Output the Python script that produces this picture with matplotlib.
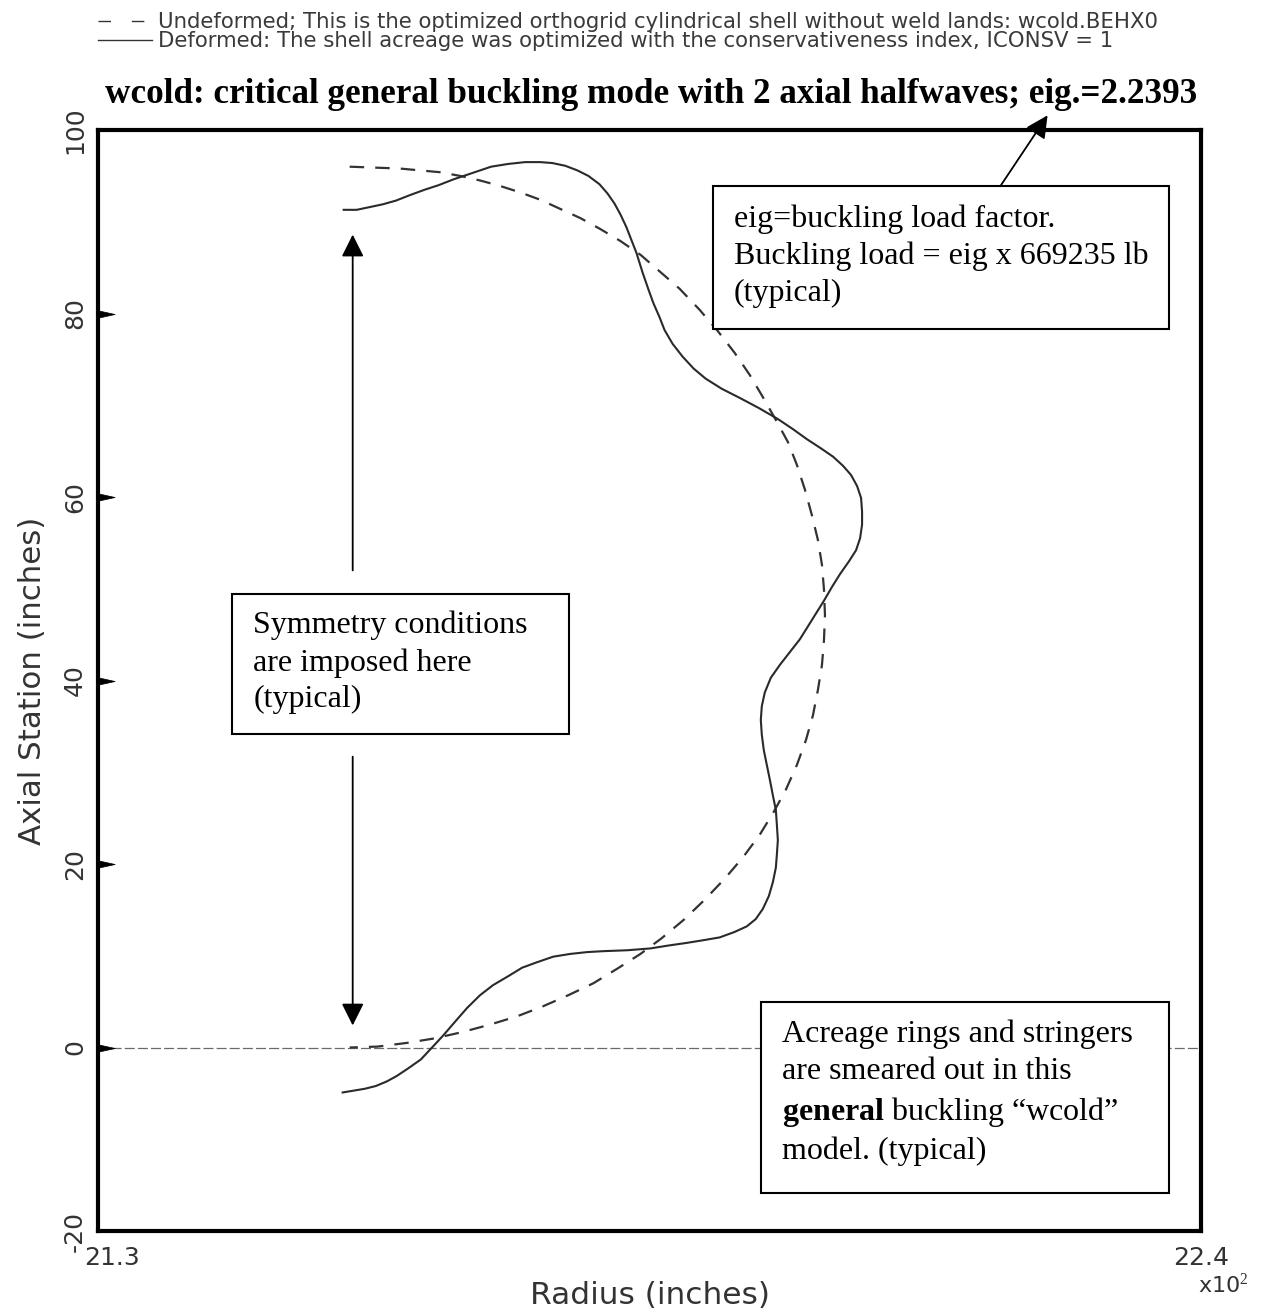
import matplotlib
matplotlib.use('Agg')
import matplotlib.pyplot as plt
import matplotlib.transforms as mtransforms
from matplotlib.lines import Line2D
from matplotlib.patches import Rectangle
from matplotlib.path import Path

plt.rcParams['font.family'] = ['DejaVu Sans']
plt.rcParams['mathtext.fontset'] = 'custom'
plt.rcParams['mathtext.rm'] = 'Liberation Serif'
plt.rcParams['mathtext.bf'] = 'Liberation Serif:bold'

# undeformed shell meridian: radius (in) vs axial station (in)
undeformed_r = [2155.1, 2157.6, 2160.1, 2162.1, 2164.1, 2166.1, 2168.1, 2170.1, 2172.1, 2174.1,
                2176.1, 2178.1, 2180.1, 2182.1, 2184.1, 2186.0, 2188.0, 2190.0, 2191.8, 2193.5,
                2195.0, 2196.3, 2197.6, 2198.8, 2199.7, 2200.5, 2201.2, 2201.8, 2202.2, 2202.4,
                2202.5, 2202.4, 2202.2, 2201.8, 2201.3, 2200.6, 2199.7, 2198.6, 2197.4, 2196.0,
                2194.3, 2192.5, 2190.5, 2188.4, 2186.2, 2184.1, 2181.8, 2179.4, 2176.9, 2174.4,
                2171.8, 2169.1, 2166.4, 2163.6, 2160.8, 2157.9, 2155.1]
undeformed_z = [96.0, 95.9, 95.8, 95.6, 95.4, 95.0, 94.5, 93.9, 93.2, 92.4,
                91.4, 90.4, 89.2, 87.9, 86.4, 84.6, 82.7, 80.4, 78.1, 75.7,
                73.3, 70.9, 68.4, 66.0, 63.5, 60.8, 58.0, 55.3, 52.6, 49.9,
                47.1, 44.4, 41.7, 39.0, 36.2, 33.5, 30.8, 28.1, 25.7, 23.2,
                20.7, 18.4, 16.1, 13.9, 11.9, 10.2, 8.6, 7.0, 5.7, 4.5,
                3.4, 2.5, 1.7, 1.0, 0.5, 0.1, 0.0]

# buckling mode shape, eig = 2.2393
deformed_r = [2154.5, 2155.8, 2157.1, 2158.4, 2159.7, 2161.1, 2162.6, 2164.0, 2165.4, 2167.3,
              2169.2, 2170.9, 2172.6, 2174.1, 2175.3, 2176.6, 2177.8, 2178.9, 2180.0, 2180.8,
              2181.5, 2182.1, 2182.7, 2183.2, 2183.7, 2184.3, 2184.9, 2185.4, 2186.0, 2186.5,
              2187.3, 2188.3, 2189.4, 2190.6, 2192.2, 2194.0, 2195.9, 2197.8, 2199.3, 2200.7,
              2202.1, 2203.3, 2204.3, 2205.1, 2205.7, 2206.1, 2206.2, 2206.2, 2206.0, 2205.6,
              2204.9, 2204.0, 2203.2, 2202.4, 2201.2, 2200.0, 2199.0, 2198.0, 2197.1, 2196.5,
              2196.2, 2196.1, 2196.2, 2196.4, 2196.7, 2197.0, 2197.3, 2197.6, 2197.7, 2197.8,
              2197.7, 2197.6, 2197.3, 2196.9, 2196.3, 2195.6, 2194.7, 2193.5, 2192.0, 2190.4,
              2188.7, 2186.8, 2185.1, 2182.8, 2180.4, 2178.8, 2177.1, 2175.4, 2173.8, 2172.3,
              2170.8, 2169.4, 2168.1, 2166.8, 2165.6, 2164.5, 2163.4, 2162.2, 2160.9, 2159.8,
              2158.8, 2157.7, 2156.6, 2155.5, 2154.4]
deformed_z = [91.3, 91.3, 91.6, 91.9, 92.3, 92.9, 93.5, 94.0, 94.6, 95.3,
              96.0, 96.3, 96.5, 96.5, 96.4, 96.1, 95.6, 95.0, 94.1, 93.1,
              92.0, 90.8, 89.4, 88.0, 86.6, 84.5, 82.6, 81.1, 79.6, 78.2,
              76.7, 75.3, 74.0, 72.9, 71.8, 70.8, 69.7, 68.5, 67.4, 66.3,
              65.3, 64.4, 63.4, 62.4, 61.2, 59.9, 58.4, 57.0, 55.5, 54.2,
              53.0, 51.6, 50.2, 48.7, 46.6, 44.5, 43.1, 41.7, 40.3, 38.7,
              37.2, 35.7, 34.1, 32.4, 30.8, 29.2, 27.5, 25.9, 24.3, 22.6,
              21.0, 19.6, 18.0, 16.5, 15.1, 14.0, 13.2, 12.6, 12.0, 11.7,
              11.4, 11.1, 10.8, 10.6, 10.5, 10.4, 10.2, 9.9, 9.3, 8.7,
              7.7, 6.8, 5.7, 4.3, 2.8, 1.4, 0.1, -1.3, -2.3, -3.1,
              -3.7, -4.2, -4.5, -4.7, -4.9]

x_ticks = [2130, 2240]
x_tick_labels = ['21.3', '22.4']
y_ticks = [-20, 0, 20, 40, 60, 80, 100]
y_tick_labels = ['-20', '0', '20', '40', '60', '80', '100']

W, H = 1268, 1314
fig = plt.figure(figsize=(W / 100, H / 100), dpi=100)
ax = fig.add_axes([98 / W, 1 - 1231 / H, 1103 / W, 1101 / H])


def fx(px):
    return px / W


def fy(py):
    return 1 - py / H


# legend block above the title
fig.add_artist(Line2D([fx(98), fx(147)], [fy(21), fy(21)], color='#333333', lw=1.0, dashes=(9, 15)))
fig.add_artist(Line2D([fx(98), fx(152)], [fy(40), fy(40)], color='#333333', lw=1.0))
fig.text(fx(158), fy(28),
         'Undeformed; This is the optimized orthogrid cylindrical shell without weld lands: wcold.BEHX0',
         fontsize=15.3, color='#3a3a3a', va='baseline')
fig.text(fx(158), fy(47),
         'Deformed: The shell acreage was optimized with the conservativeness index, ICONSV = 1',
         fontsize=15.3, color='#3a3a3a', va='baseline')

fig.text(fx(651), fy(103),
         'wcold: critical general buckling mode with 2 axial halfwaves; eig.=2.2393',
         fontsize=25.3, fontweight='bold', family='Liberation Serif', ha='center', va='baseline')

ax.axhline(0, color='#6a6a6a', lw=0.9, dashes=(8, 2.5), zorder=1)
ax.plot(undeformed_r, undeformed_z, color='#333333', lw=1.6, dashes=(6.5, 5), zorder=2)
ax.plot(deformed_r, deformed_z, color='#2a2a2a', lw=1.5, zorder=3)

ax.set_xlim(2130, 2240)
ax.set_ylim(-20, 100)

serif = dict(family='Liberation Serif', fontsize=23, linespacing=1.35, va='top', ha='left', zorder=6)
head = dict(arrowstyle='-|>', color='black', lw=1.3, mutation_scale=34, shrinkA=0, shrinkB=0)

# note on the eigenvalue
ax.add_patch(Rectangle((2191.3, 78.3), 45.5, 15.6, facecolor='white', edgecolor='black', lw=1.5, zorder=5))
ax.text(2193.4, 91.9, 'eig=buckling load factor.\nBuckling load = eig x 669235 lb\n(typical)', **serif)
ax.annotate('', xy=(2224.7, 101.6), xytext=(2220.0, 93.9), annotation_clip=False, arrowprops=head)

# symmetry plane note with arrows to both ends
ax.add_patch(Rectangle((2143.4, 34.2), 33.6, 15.2, facecolor='white', edgecolor='black', lw=1.5, zorder=5))
ax.text(2145.5, 47.6, 'Symmetry conditions\nare imposed here\n(typical)', **serif)
ax.annotate('', xy=(2155.4, 88.6), xytext=(2155.4, 52.0), arrowprops=head)
ax.annotate('', xy=(2155.4, 2.4), xytext=(2155.4, 31.7), arrowprops=head)

# smeared stiffener note
ax.add_patch(Rectangle((2196.1, -15.9), 40.7, 20.9, facecolor='white', edgecolor='black', lw=1.5, zorder=5))
ax.text(2198.2, 3.0,
        'Acreage rings and stringers\nare smeared out in this\n'
        '$\\mathbf{general}$ buckling \u201cwcold\u201d\nmodel. (typical)', **serif)

for s in ax.spines.values():
    s.set_linewidth(3)
    s.set_color('black')
    s.set_zorder(7)

ax.set_xticks(x_ticks)
ax.set_xticklabels(x_tick_labels)
ax.set_yticks(y_ticks)
ax.set_yticklabels(y_tick_labels, rotation=90, va='center')
ax.tick_params(axis='x', length=0, pad=11, labelsize=18, labelcolor='#333333')
ax.tick_params(axis='y', direction='in', length=12, width=2, pad=8, labelsize=18, labelcolor='#333333')

# push 21.3 clear of the rotated -20
first = ax.get_xticklabels()[0]
first.set_transform(first.get_transform() + mtransforms.ScaledTranslation(0.14, 0, fig.dpi_scale_trans))

# wedge shaped inward ticks
wedge = Path([(0, -0.22), (1, 0), (0, 0.22), (0, -0.22)],
             [Path.MOVETO, Path.LINETO, Path.LINETO, Path.CLOSEPOLY])
yt = ax.yaxis.get_major_ticks()
for i, t in enumerate(yt):
    t.tick1line.set_marker(wedge)
    t.tick1line.set_markersize(24)
    t.tick1line.set_markerfacecolor('black')
    t.tick1line.set_markeredgewidth(0.5)
    if i == 0 or i == len(yt) - 1:
        t.tick1line.set_visible(False)

ax.set_xlabel('Radius (inches)', fontsize=22.5, color='#333333', va='top')
ax.xaxis.set_label_coords(0.5, -0.045)
ax.set_ylabel('Axial Station (inches)', fontsize=22.2, color='#333333')
ax.yaxis.set_label_coords(-0.046, 0.5)

fig.text(fx(1198), fy(1293), 'x10$^2$', fontsize=16, color='#333333', va='baseline')

fig.savefig('out.png', dpi=100)
